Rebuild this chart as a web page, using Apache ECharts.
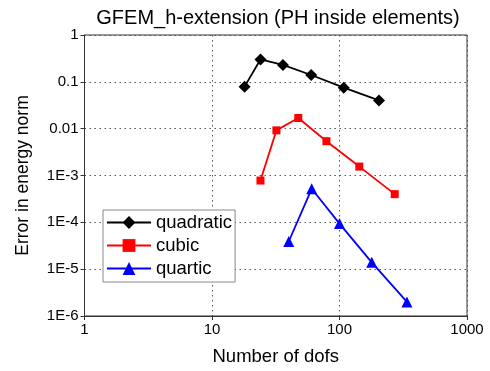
<!DOCTYPE html>
<html><head><meta charset="utf-8">
<script src="https://cdn.jsdelivr.net/npm/echarts@6/dist/echarts.min.js"></script>
<style>html,body{margin:0;padding:0;background:#fff}#c{width:490px;height:371px}</style>
</head><body><div id="c"></div>
<script>
const quadX = [18, 24, 36, 60, 108, 204];
const quadY = [0.079, 0.30, 0.23, 0.14, 0.075, 0.040];
const cubX = [24, 32, 47.5, 79, 143, 271];
const cubY = [7.8e-4, 0.0092, 0.0169, 0.0054, 0.00155, 4.0e-4];
const quaX = [40, 60.5, 100, 179, 338];
const quaY = [3.9e-5, 5.2e-4, 9.4e-5, 1.4e-5, 2.0e-6];
const seriesNames = ['quadratic', 'cubic', 'quartic'];
const title = 'GFEM_h-extension (PH inside elements)';

const zip = (a, b) => a.map((v, i) => [v, b[i]]);
const font = 'Liberation Sans, Arial, sans-serif';
function yfmt(v) {
  const e = Math.round(Math.log10(v));
  if (e === 0) return '1';
  if (e === -1) return '0.1';
  if (e === -2) return '0.01';
  return '1E' + e;
}
function xfmt(v) { return String(Math.round(v)); }
const chart = echarts.init(document.getElementById('c'));
chart.setOption({
  animation: false,
  backgroundColor: '#fff',
  title: { text: title, left: 273, textAlign: 'center', top: 3,
    textStyle: { fontFamily: font, fontSize: 20, fontWeight: 'normal', color: '#000' } },
  grid: { left: 84.5, right: 23, top: 35, bottom: 52.7, show: true, borderColor: '#333', borderWidth: 1 },
  xAxis: {
    type: 'log', logBase: 10, min: 1, max: 1000,
    name: 'Number of dofs', nameLocation: 'middle', nameGap: 31,
    nameTextStyle: { fontFamily: font, fontSize: 18.5, color: '#000' },
    axisLine: { lineStyle: { color: '#333' } },
    axisTick: { inside: false, length: 4, lineStyle: { color: '#333' } },
    axisLabel: { fontFamily: font, fontSize: 15, color: '#000', margin: 6, formatter: xfmt },
    splitLine: { show: true, lineStyle: { type: [1.5, 3.5], color: '#555' } },
    minorTick: { show: false }
  },
  yAxis: {
    type: 'log', logBase: 10, min: 1e-6, max: 1,
    name: 'Error in energy norm', nameLocation: 'middle', nameGap: 52,
    nameTextStyle: { fontFamily: font, fontSize: 17.5, color: '#000' },
    axisLine: { lineStyle: { color: '#333' } },
    axisTick: { inside: false, length: 4, lineStyle: { color: '#333' } },
    axisLabel: { fontFamily: font, fontSize: 15, color: '#000', margin: 6, formatter: yfmt },
    splitLine: { show: true, lineStyle: { type: [1.5, 3.5], color: '#555' } }
  },
  legend: {
    orient: 'vertical', left: 103, top: 210,
    backgroundColor: '#fff', borderColor: '#888', borderWidth: 1,
    padding: [3, 3, 4, 3], itemGap: 4, itemWidth: 44, itemHeight: 16,
    textStyle: { fontFamily: font, fontSize: 18.5, color: '#000' },
    data: seriesNames
  },
  series: [
    { name: seriesNames[0], type: 'line', data: zip(quadX, quadY), symbol: 'diamond', symbolSize: 12,
      color: '#000', lineStyle: { width: 1.8, color: '#000' }, itemStyle: { color: '#000' } },
    { name: seriesNames[1], type: 'line', data: zip(cubX, cubY), symbol: 'rect', symbolSize: 8,
      color: '#ff0000', lineStyle: { width: 1.8, color: '#ff0000' }, itemStyle: { color: '#ff0000' } },
    { name: seriesNames[2], type: 'line', data: zip(quaX, quaY), symbol: 'triangle', symbolSize: 11,
      color: '#0000ff', lineStyle: { width: 1.8, color: '#0000ff' }, itemStyle: { color: '#0000ff' } }
  ]
});
</script></body></html>
